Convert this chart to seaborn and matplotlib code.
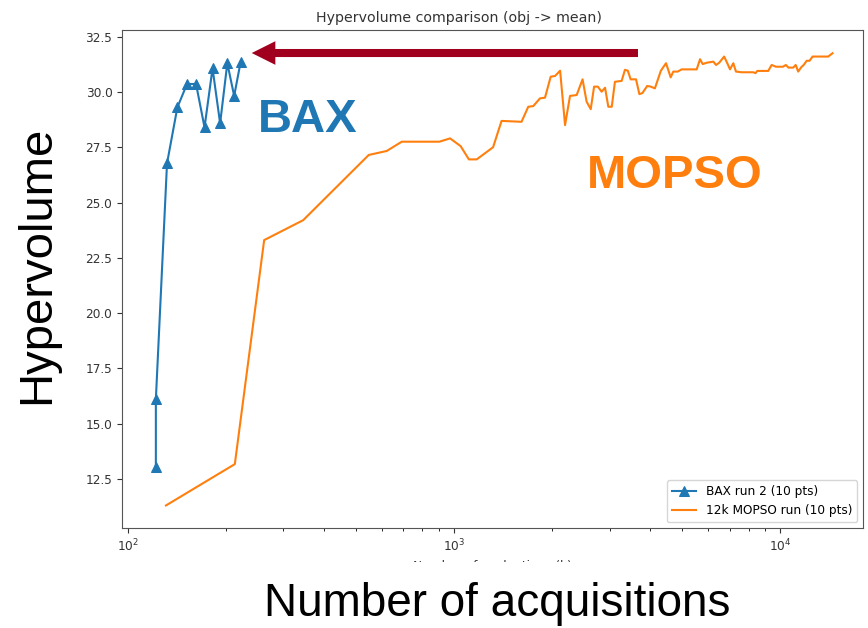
import seaborn as sns
import matplotlib.pyplot as plt
import pandas as pd
from matplotlib.patches import Rectangle

# BAX run (acquisitions, hypervolume)
bax_x = [122, 122, 132, 142, 152, 162, 172, 182, 192, 202, 212, 222]
bax_hv = [13.04, 16.1, 26.77, 29.3, 30.36, 30.36, 28.4, 31.07, 28.58, 31.3, 29.82, 31.37]

# MOPSO run
mopso_x = [131, 213, 262, 345, 427, 548, 622, 692, 902, 973,
           1048, 1111, 1174, 1318, 1399, 1611, 1689, 1750, 1835, 1901,
           1979, 2040, 2115, 2190, 2268, 2377, 2478, 2550, 2625, 2688,
           2760, 2835, 2904, 2972, 3045, 3114, 3265, 3342, 3410, 3479,
           3614, 3700, 3780, 3911, 4010, 4128, 4306, 4466, 4615, 4700,
           4850, 4985, 5545, 5677, 5785, 5950, 6235, 6356, 6500, 6730,
           6880, 7015, 7180, 7315, 7620, 8265, 8400, 8500, 9185, 9410,
           9700, 10200, 10400, 10600, 10960, 11150, 11350, 11600, 11800, 12050,
           12300, 12560, 14030, 14460]
mopso_hv = [11.3, 13.17, 23.3, 24.2, 25.56, 27.15, 27.33, 27.75, 27.75, 27.9,
            27.55, 26.95, 26.95, 27.5, 28.69, 28.65, 29.33, 29.36, 29.71, 29.74,
            30.69, 30.72, 30.96, 28.5, 29.82, 29.86, 30.57, 29.56, 29.22, 30.24,
            30.24, 30.01, 30.19, 29.33, 29.33, 30.46, 30.5, 31.0, 30.96, 30.57,
            30.57, 29.9, 29.95, 30.27, 30.24, 30.16, 30.96, 31.3, 30.66, 30.92,
            30.92, 31.02, 31.02, 31.48, 31.26, 31.32, 31.37, 31.22, 31.32, 31.6,
            31.3, 31.02, 31.3, 30.92, 30.89, 30.89, 30.85, 30.95, 30.95, 31.22,
            31.14, 31.14, 31.22, 31.1, 31.1, 31.22, 30.92, 31.12, 31.22, 31.41,
            31.41, 31.6, 31.6, 31.75]

# arrow from the MOPSO plateau back to BAX
arrow_y = 31.76
arrow_from = 3664
arrow_to = 240

df_bax = pd.DataFrame({"x": bax_x, "hv": bax_hv})
df_mopso = pd.DataFrame({"x": mopso_x, "hv": mopso_hv})

fig = plt.figure(figsize=(8.68, 6.28), dpi=100)
ax = fig.add_axes([0.1406, 0.1592, 0.8536, 0.793])

sns.lineplot(x="x", y="hv", data=df_bax, ax=ax, color="#1f77b4", marker="^",
             markersize=6.5, markeredgecolor="#1f77b4", linewidth=1.5,
             estimator=None, sort=False, label="BAX run 2 (10 pts)")
sns.lineplot(x="x", y="hv", data=df_mopso, ax=ax, color="#ff7f0e",
             linewidth=1.5, estimator=None, sort=False,
             label="12k MOPSO run (10 pts)")

ax.set_xscale("log")
ax.set_xlim(96.1, 17925)
ax.set_ylim(10.28, 32.8)
ax.set_yticks([12.5, 15.0, 17.5, 20.0, 22.5, 25.0, 27.5, 30.0, 32.5])
ax.tick_params(labelsize=8.7, colors="#333333")
for s in ax.spines.values():
    s.set_color("#555555")

ax.set_title("Hypervolume comparison (obj -> mean)", fontsize=10.2,
             color="#333333", x=0.455)
ax.set_xlabel("Number of evaluations (k)", fontsize=8.7, color="#333333")
ax.set_ylabel("")

ax.legend(loc="lower right", fontsize=8.7)

ax.annotate("", xy=(arrow_to, arrow_y), xytext=(arrow_from, arrow_y),
            arrowprops=dict(facecolor="#a0001e", edgecolor="none", width=5.8,
                            headwidth=17, headlength=17, shrink=0))

fig.text(258 / 868, 1 - 132 / 628, "BAX", color="#1f77b4", fontsize=34,
         fontweight="bold", family="Liberation Sans", va="baseline")
fig.text(587 / 868, 1 - 188 / 628, "MOPSO", color="#ff7f0e", fontsize=34,
         fontweight="bold", family="Liberation Sans", va="baseline")

# white band over the small axis label, with the big label on top
fig.add_artist(Rectangle((0, 0), 1, 66 / 628, transform=fig.transFigure,
                         facecolor="white", edgecolor="none", zorder=5))
fig.text(497 / 868, 1 - 616 / 628, "Number of acquisitions", fontsize=33,
         family="Liberation Sans", ha="center", va="baseline", zorder=6)
fig.text(37 / 868, 1 - 265 / 628, "Hypervolume", fontsize=34,
         family="Liberation Sans", rotation=90, ha="center", va="center",
         zorder=6)

fig.savefig("out.png", dpi=100)
